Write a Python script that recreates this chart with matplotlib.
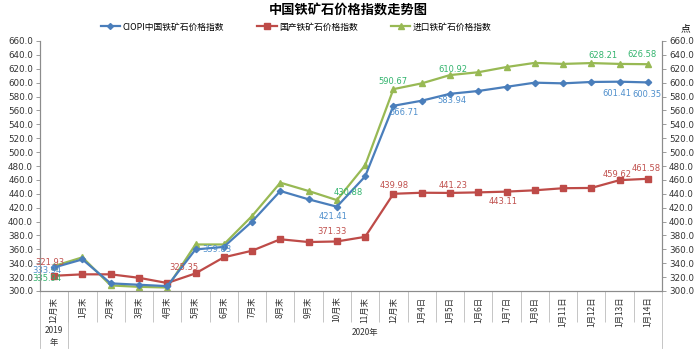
import matplotlib
matplotlib.use('Agg')
import matplotlib.pyplot as plt
from matplotlib.ticker import FormatStrFormatter, FixedLocator
from matplotlib.lines import Line2D
import matplotlib.transforms as mtransforms

plt.rcParams['font.family'] = ['Noto Sans CJK SC', 'DejaVu Sans']

# 数据
cats = ['12月末', '1月末', '2月末', '3月末', '4月末', '5月末', '6月末', '7月末', '8月末',
        '9月末', '10月末', '11月末', '12月末', '1月4日', '1月5日', '1月6日', '1月7日',
        '1月8日', '1月11日', '1月12日', '1月13日', '1月14日']
ciopi = [333.94, 345.5, 311.0, 309.0, 307.0, 359.83, 363.5, 400.0, 444.0, 432.0, 421.41,
         465.0, 566.71, 574.0, 583.94, 588.0, 594.0, 600.0, 599.0, 601.0, 601.41, 600.35]
domestic = [321.93, 324.0, 324.0, 319.0, 311.5, 325.35, 348.5, 358.0, 374.5, 370.5, 371.33,
            378.0, 439.98, 441.5, 441.23, 442.0, 443.11, 445.0, 448.0, 448.4, 459.62, 461.58]
imported = [335.94, 348.5, 308.0, 306.0, 305.0, 367.0, 367.0, 408.0, 456.0, 444.0, 430.88,
            481.0, 590.67, 599.0, 610.92, 615.0, 622.5, 628.5, 627.0, 628.21, 627.0, 626.58]
names = ['CIOPI中国铁矿石价格指数', '国产铁矿石价格指数', '进口铁矿石价格指数']

# 标注 (序号 -> 像素偏移)
lab_ciopi = {0: (-7, -3), 5: (21, 0), 10: (-4, -10), 12: (11, -7), 14: (2, -7), 20: (-3, -12), 21: (-1, -12)}
lab_dom = {0: (-4, 13), 5: (-12, 6), 10: (-5, 10), 12: (1, 8), 14: (3, 7), 16: (-3, -10), 20: (-2, 6), 21: (-2, 10)}
lab_imp = {0: (-7, -12), 10: (11, 8), 12: (0, 8), 14: (3, 6), 19: (12, 8), 21: (-6, 10)}

c_blue, c_red, c_green = '#4A7EBB', '#BE4B48', '#98B954'
t_blue, t_red, t_green = '#4F8FCC', '#C0504D', '#33B46E'
gray = '#8C8C8C'

fig = plt.figure(figsize=(6.97, 3.53), dpi=100)
ax = fig.add_axes([40 / 697, 62 / 353, 622 / 697, 250 / 353])
x = list(range(len(cats)))

ax.plot(x, imported, color=c_green, lw=1.6, marker='^', ms=5, zorder=3)
ax.plot(x, ciopi, color=c_blue, lw=1.6, marker='D', ms=3.2, zorder=4)
ax.plot(x, domestic, color=c_red, lw=1.6, marker='s', ms=5, zorder=3)

for vals, labs, col in [(ciopi, lab_ciopi, t_blue), (domestic, lab_dom, t_red), (imported, lab_imp, t_green)]:
    for i, (dx, dy) in labs.items():
        ax.annotate('%.2f' % vals[i], (x[i], vals[i]), xytext=(dx, dy), textcoords='offset pixels',
                    ha='center', va='center', fontsize=6, color=col, zorder=5,
                    family=['DejaVu Sans'])

ax.set_xlim(-0.5, len(cats) - 0.5)
ax.set_ylim(300, 660)
ax.yaxis.set_major_locator(FixedLocator(range(300, 661, 20)))
ax.yaxis.set_major_formatter(FormatStrFormatter('%.1f'))

ax2 = ax.twinx()
ax2.set_ylim(300, 660)
ax2.yaxis.set_major_locator(FixedLocator(range(300, 661, 20)))
ax2.yaxis.set_major_formatter(FormatStrFormatter('%.1f'))

for a in (ax, ax2):
    for s in a.spines.values():
        s.set_color(gray)
        s.set_linewidth(0.8)
    a.spines['top'].set_visible(False)
    a.tick_params(axis='y', labelsize=6.3, colors='#333333', length=3, width=0.6, color=gray, pad=2)
    for lb in a.get_yticklabels():
        lb.set_family('DejaVu Sans')

ax.set_xticks(x)
ax.set_xticklabels(cats, rotation=90, fontsize=6)
ax.tick_params(axis='x', which='major', length=0, pad=4, colors='#333333')
ax.set_xticks([i - 0.5 for i in range(1, len(cats))], minor=True)
ax.tick_params(axis='x', which='minor', length=22, width=0.6, color='#BBBBBB')

# 分组线
tr = mtransforms.blended_transform_factory(ax.transData, ax.transAxes)
for gx in [-0.5, 0.5, len(cats) - 0.5]:
    ax.add_line(Line2D([gx, gx], [0, -0.228], transform=tr, color='#BBBBBB', lw=0.6, clip_on=False))
ax.text(0, -0.14, '2019\n年', transform=tr, ha='center', va='top', fontsize=6, color='#333333', linespacing=1.4)
ax.text((0.5 + len(cats) - 0.5) / 2, -0.168, '2020年', transform=tr, ha='center', va='center', fontsize=6, color='#333333')

# 标题与图例
fig.text(0.5, 1 - 11 / 353, '中国铁矿石价格指数走势图', ha='center', va='center', fontsize=9.5, fontweight='bold')
fig.text(685 / 697, 1 - 28 / 353, '点', ha='center', va='center', fontsize=7)
handles = [Line2D([], [], color=c_blue, lw=1.6, marker='D', ms=3),
           Line2D([], [], color=c_red, lw=1.6, marker='s', ms=4.5),
           Line2D([], [], color=c_green, lw=1.6, marker='^', ms=4.5)]
fig.legend(handles, names, loc='center', bbox_to_anchor=(0.425, 1 - 27 / 353), ncol=3, frameon=False,
           fontsize=6.3, handlelength=2.2, handletextpad=0.3, columnspacing=3.8)

fig.savefig('out.png', dpi=100)
